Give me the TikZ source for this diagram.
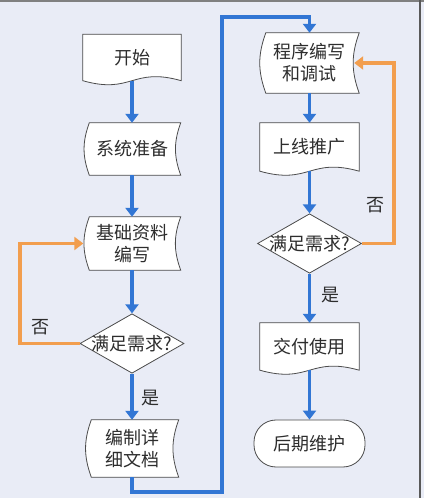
\documentclass[tikz,border=0pt]{standalone}
\usepackage{fontspec}
\newfontfamily\cjk{Noto Sans CJK SC}
\usetikzlibrary{arrows.meta,shapes.geometric}
\pgfdeclarelayer{back}
\pgfdeclarelayer{outline}
\pgfsetlayers{back,outline,main}
\definecolor{pagebg}{RGB}{233,236,246}
\definecolor{flowblue}{RGB}{50,118,212}
\definecolor{looporange}{RGB}{242,158,78}
\definecolor{edgegray}{RGB}{75,75,75}
\definecolor{textgray}{RGB}{45,45,45}
\tikzset{
  shape line/.style={draw=edgegray,fill=white,line width=0.8pt},
  label text/.style={inner sep=0pt,align=center,text=textgray,
    font=\cjk\fontsize{18}{22}\selectfont},
  % box with a wavy bottom
  docbox/.style={label text,minimum width=99pt,minimum height=47pt,
    append after command={\pgfextra{\begin{pgfonlayer}{outline}
      \path[shape line] (\tikzlastnode.south east)
        .. controls ([yshift=14pt]\tikzlastnode.south) and ([yshift=-14pt]\tikzlastnode.south) .. (\tikzlastnode.south west)
        -- (\tikzlastnode.north west) -- (\tikzlastnode.north east) -- cycle;
      \end{pgfonlayer}}}},
  % box with a round left side and a hollow right side
  storebox/.style={label text,minimum width=97pt,minimum height=52pt,
    append after command={\pgfextra{\begin{pgfonlayer}{outline}
      \path[shape line] ([xshift=6pt]\tikzlastnode.north west) -- (\tikzlastnode.north east)
        to[out=250,in=110] (\tikzlastnode.south east) -- ([xshift=6pt]\tikzlastnode.south west)
        to[out=110,in=250] ([xshift=6pt]\tikzlastnode.north west) -- cycle;
      \end{pgfonlayer}}}},
  askbox/.style={label text,shape line,diamond,aspect=1.75,inner sep=-1pt},
  endbox/.style={label text,shape line,minimum width=111pt,minimum height=47pt,rounded corners=22pt},
  flow/.style={draw=flowblue,line width=3.5pt,-{Triangle[width=13pt,length=9pt]}},
  backflow/.style={draw=looporange,line width=3.5pt,-{Triangle[width=13pt,length=9pt]}},
}
\begin{document}
\begin{tikzpicture}[x=1pt,y=1pt]
\begin{pgfonlayer}{back}
\fill[pagebg] (0,0) rectangle (424,498);
\fill[gray] (0,495.5) rectangle (424,498);
\fill[gray!70!black] (419,0) rectangle (421,498);
\end{pgfonlayer}
\useasboundingbox (0,0) rectangle (424,498);

% left column
\node[docbox,minimum width=98pt,minimum height=46pt] (start) at (132,440.5) {开始};
\node[storebox] (prep) at (132,349) {系统准备};
\node[storebox,minimum height=53pt] (base) at (132,254.5) {基础资料\\编写};
\node[askbox] (ask1) at (132,154.5) {满足需求?};
\node[storebox,minimum width=93pt,minimum height=57pt] (docs) at (132,49.5) {编制详\\细文档};

% right column
\node[storebox,minimum width=99pt,minimum height=60pt] (code) at (309.5,435) {程序编写\\和调试};
\node[docbox,minimum height=48pt] (launch) at (309.5,351) {上线推广};
\node[askbox] (ask2) at (309.5,254.5) {满足需求?};
\node[docbox] (deliver) at (309.5,151.5) {交付使用};
\node[endbox] (maint) at (309.5,54.5) {后期维护};

\node[label text] (no1) at (40,171) {否};
\node[label text] (yes1) at (150,100) {是};
\node[label text] (no2) at (375,293) {否};
\node[label text] (yes2) at (330,203) {是};

\coordinate (lturn) at (20,0);
\coordinate (rturn) at (394,0);
\coordinate (botturn) at (222,6);
\coordinate (topturn) at (222,481);

\path[flow] (start.south) -- (prep.north);
\path[flow] (prep.south) -- (base.north);
\path[flow] (base.south) -- (ask1.north);
\path[flow] (ask1.south) -- (docs.north);
\path[flow] (docs.south) |- (botturn) -- (topturn) -| (code.north);
\path[flow] (code.south) -- (launch.north);
\path[flow] (launch.south) -- (ask2.north);
\path[flow] (ask2.south) -- (deliver.north);
\path[flow] (deliver.south) -- (maint.north);

\path[backflow] (ask1.west) -- (ask1.west -| lturn) |- (base.west);
\path[backflow] (ask2.east) -- (ask2.east -| rturn) |- ([xshift=-5pt]code.east);
\end{tikzpicture}
\end{document}
